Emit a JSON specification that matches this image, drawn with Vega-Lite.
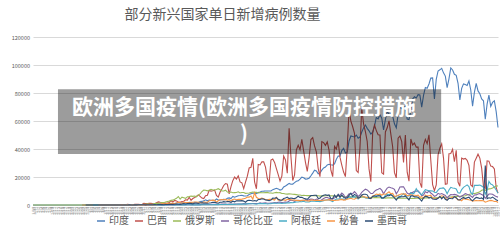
{
"$schema":"https://vega.github.io/schema/vega-lite/v6.json",
"width":465,"height":168,
"autosize":{"type":"none"},
"padding":{"left":33,"top":37,"right":2,"bottom":39},
"background":"white",
"config":{"view":{"stroke":null},"font":"Noto Sans CJK SC"},
"title":{"text":"部分新兴国家单日新增病例数量","fontSize":14,"fontWeight":"normal","color":"#595959","dx":-43,"offset":13,"font":"Noto Sans CJK SC"},
"resolve":{"scale":{"x":"independent","y":"independent"},"axis":{"x":"independent","y":"independent"}},
"datasets":{
"names":[{"k":"a","n":"印度"},{"k":"b","n":"巴西"},{"k":"c","n":"俄罗斯"},{"k":"e","n":"哥伦比亚"},{"k":"f","n":"阿根廷"},{"k":"g","n":"秘鲁"},{"k":"h","n":"墨西哥"}],
"cases":[
{"d":"2020-01-30","a":1,"c":0},{"d":"2020-01-31","a":0,"c":2},
{"d":"2020-02-01","a":0,"c":0},{"d":"2020-02-02","a":1,"c":0},{"d":"2020-02-03","a":1,"c":0},{"d":"2020-02-04","a":0,"c":0},{"d":"2020-02-05","a":0,"c":0},{"d":"2020-02-06","a":0,"c":0},{"d":"2020-02-07","a":0,"c":0},{"d":"2020-02-08","a":0,"c":0},{"d":"2020-02-09","a":0,"c":0},{"d":"2020-02-10","a":0,"c":0},{"d":"2020-02-11","a":0,"c":0},{"d":"2020-02-12","a":0,"c":0},{"d":"2020-02-13","a":0,"c":0},{"d":"2020-02-14","a":0,"c":0},{"d":"2020-02-15","a":0,"c":0},{"d":"2020-02-16","a":0,"c":0},{"d":"2020-02-17","a":0,"c":0},{"d":"2020-02-18","a":0,"c":0},{"d":"2020-02-19","a":0,"c":0},{"d":"2020-02-20","a":0,"c":0},{"d":"2020-02-21","a":0,"c":0},{"d":"2020-02-22","a":0,"c":0},{"d":"2020-02-23","a":0,"c":0},{"d":"2020-02-24","a":0,"c":0},{"d":"2020-02-25","a":0,"c":0},
{"d":"2020-02-26","a":0,"b":1,"c":0},{"d":"2020-02-27","a":0,"b":0,"c":0},{"d":"2020-02-28","a":0,"b":0,"c":0,"h":1},{"d":"2020-02-29","a":0,"b":0,"c":0,"h":3},
{"d":"2020-03-01","a":0,"b":1,"c":0,"h":1},{"d":"2020-03-02","a":2,"b":0,"c":1,"h":0},{"d":"2020-03-03","a":1,"b":0,"c":0,"f":1,"h":0},{"d":"2020-03-04","a":22,"b":2,"c":0,"f":0,"h":0},{"d":"2020-03-05","a":2,"b":4,"c":1,"f":1,"h":0},
{"d":"2020-03-06","a":1,"b":5,"c":0,"e":1,"f":6,"g":1,"h":1},{"d":"2020-03-07","a":3,"b":6,"c":0,"e":0,"f":4,"g":5,"h":2},{"d":"2020-03-08","a":5,"b":6,"c":3,"e":0,"f":0,"g":1,"h":0},{"d":"2020-03-09","a":4,"b":0,"c":0,"e":0,"f":5,"g":2,"h":0},{"d":"2020-03-10","a":13,"b":6,"c":3,"e":2,"f":0,"g":2,"h":0},
{"d":"2020-03-11","a":6,"b":18,"c":8,"e":6,"f":2,"g":6,"h":4},{"d":"2020-03-12","a":11,"b":25,"c":6,"e":0,"f":12,"g":5,"h":4},{"d":"2020-03-13","a":9,"b":21,"c":17,"e":7,"f":3,"g":16,"h":4},{"d":"2020-03-14","a":20,"b":23,"c":14,"e":8,"f":11,"g":16,"h":15},{"d":"2020-03-15","a":11,"b":79,"c":4,"e":21,"f":11,"g":33,"h":15},
{"d":"2020-03-16","a":6,"b":34,"c":30,"e":11,"f":9,"g":15,"h":29},{"d":"2020-03-17","a":23,"b":57,"c":21,"e":30,"f":9,"g":31,"h":11},{"d":"2020-03-18","a":14,"b":137,"c":33,"e":27,"f":14,"g":11,"h":25},{"d":"2020-03-19","a":38,"b":193,"c":52,"e":9,"f":19,"g":89,"h":46},{"d":"2020-03-20","a":50,"b":283,"c":54,"e":26,"f":31,"g":40,"h":45},
{"d":"2020-03-21","a":86,"b":224,"c":53,"e":41,"f":30,"g":29,"h":39},{"d":"2020-03-22","a":66,"b":418,"c":61,"e":35,"f":67,"g":55,"h":48},{"d":"2020-03-23","a":103,"b":345,"c":71,"e":75,"f":36,"g":32,"h":65},{"d":"2020-03-24","a":37,"b":310,"c":57,"e":72,"f":35,"g":21,"h":38},{"d":"2020-03-25","a":121,"b":232,"c":163,"e":92,"f":86,"g":64,"h":38},
{"d":"2020-03-26","a":70,"b":482,"c":182,"e":21,"f":115,"g":100,"h":70},{"d":"2020-03-27","a":160,"b":502,"c":196,"e":121,"f":87,"g":100,"h":109},{"d":"2020-03-28","a":100,"b":487,"c":228,"e":48,"f":101,"g":55,"h":132},{"d":"2020-03-29","a":82,"b":352,"c":270,"e":94,"f":75,"g":181,"h":131},{"d":"2020-03-30","a":220,"b":323,"c":302,"e":96,"f":79,"g":92,"h":145},{"d":"2020-03-31","a":303,"b":1138,"c":501,"e":104,"f":146,"g":115,"h":156},
{"d":"2020-04-01","a":601,"b":1119,"c":440,"e":96,"f":132,"g":258,"h":116},{"d":"2020-04-02","a":545,"b":1074,"c":771,"e":100,"f":167,"g":100,"h":178},{"d":"2020-04-03","a":478,"b":1146,"c":601,"e":141,"f":98,"g":265,"h":163},{"d":"2020-04-04","a":578,"b":1222,"c":582,"e":65,"f":116,"g":189,"h":206},{"d":"2020-04-05","a":689,"b":852,"c":658,"e":82,"f":89,"g":106,"h":178},
{"d":"2020-04-06","a":490,"b":926,"c":954,"e":142,"f":131,"g":156,"h":253},{"d":"2020-04-07","a":573,"b":1661,"c":1154,"e":199,"f":78,"g":171,"h":203},{"d":"2020-04-08","a":565,"b":2210,"c":1175,"e":188,"f":105,"g":331,"h":296},{"d":"2020-04-09","a":813,"b":1930,"c":1459,"e":202,"f":120,"g":575,"h":302},{"d":"2020-04-10","a":871,"b":1781,"c":1786,"e":95,"f":85,"g":1000,"h":297},
{"d":"2020-04-11","a":854,"b":1089,"c":1667,"e":84,"f":52,"g":890,"h":203},{"d":"2020-04-12","a":758,"b":1442,"c":2186,"e":72,"f":94,"g":686,"h":329},{"d":"2020-04-13","a":1243,"b":1261,"c":2558,"e":77,"f":92,"g":1200,"h":304},{"d":"2020-04-14","a":1031,"b":1832,"c":2774,"e":172,"f":142,"g":1060,"h":421},{"d":"2020-04-15","a":886,"b":3058,"c":3388,"e":71,"f":125,"g":1250,"h":429},
{"d":"2020-04-16","a":1061,"b":2105,"c":3448,"e":134,"f":117,"g":1190,"h":448},{"d":"2020-04-17","a":922,"b":3257,"c":4070,"e":99,"f":100,"g":1100,"h":493},{"d":"2020-04-18","a":1371,"b":2917,"c":4785,"e":227,"f":79,"g":1450,"h":629},{"d":"2020-04-19","a":1580,"b":2055,"c":6060,"e":137,"f":122,"g":1800,"h":578},{"d":"2020-04-20","a":1239,"b":1927,"c":4268,"e":126,"f":73,"g":1900,"h":478},
{"d":"2020-04-21","a":1537,"b":2498,"c":5642,"e":142,"f":79,"g":1000,"h":764},{"d":"2020-04-22","a":1292,"b":2678,"c":5236,"e":252,"f":96,"g":2100,"h":1089},{"d":"2020-04-23","a":1667,"b":3735,"c":4774,"e":264,"f":89,"g":1750,"h":745},{"d":"2020-04-24","a":1408,"b":3503,"c":5849,"e":240,"f":127,"g":1770,"h":1043},{"d":"2020-04-25","a":1835,"b":5514,"c":5966,"e":271,"f":164,"g":1800,"h":1239},
{"d":"2020-04-26","a":1607,"b":3379,"c":6361,"e":269,"f":72,"g":1900,"h":1144},{"d":"2020-04-27","a":1568,"b":4613,"c":6198,"e":167,"f":87,"g":2000,"h":801},{"d":"2020-04-28","a":1902,"b":5385,"c":6411,"e":220,"f":77,"g":2100,"h":1223},{"d":"2020-04-29","a":1705,"b":6276,"c":5841,"e":196,"f":109,"g":2100,"h":1214},{"d":"2020-04-30","a":1801,"b":7218,"c":7099,"e":253,"f":111,"g":2000,"h":1100},
{"d":"2020-05-01","a":2396,"b":6209,"c":7933,"e":270,"f":101,"g":2000,"h":1425},{"d":"2020-05-02","a":2564,"b":4970,"c":9623,"e":312,"f":128,"g":1500,"h":1515},{"d":"2020-05-03","a":2952,"b":4588,"c":10633,"e":348,"f":207,"g":2300,"h":1349},{"d":"2020-05-04","a":3656,"b":6633,"c":10581,"e":367,"f":180,"g":2000,"h":1434},{"d":"2020-05-05","a":2971,"b":6935,"c":10102,"e":490,"f":208,"g":1900,"h":1305},
{"d":"2020-05-06","a":3602,"b":10503,"c":10559,"e":406,"f":160,"g":3000,"h":1442},{"d":"2020-05-07","a":3344,"b":9888,"c":11231,"e":509,"f":173,"g":3200,"h":1609},{"d":"2020-05-08","a":3339,"b":10222,"c":10699,"e":498,"f":143,"g":3500,"h":1906},{"d":"2020-05-09","a":3175,"b":10611,"c":10817,"e":583,"f":243,"g":3300,"h":1992},{"d":"2020-05-10","a":4311,"b":6760,"c":11012,"e":595,"f":259,"g":2000,"h":1562},
{"d":"2020-05-11","a":3592,"b":5632,"c":11656,"e":576,"f":253,"g":3000,"h":1305},{"d":"2020-05-12","a":3562,"b":9258,"c":10899,"e":519,"f":310,"g":3700,"h":1997},{"d":"2020-05-13","a":3726,"b":11385,"c":10028,"e":632,"f":315,"g":3900,"h":1998},{"d":"2020-05-14","a":3991,"b":13944,"c":9974,"e":622,"f":316,"g":3800,"h":2409},{"d":"2020-05-15","a":3808,"b":15305,"c":10598,"e":590,"f":422,"g":4000,"h":2112},
{"d":"2020-05-16","a":4794,"b":14919,"c":9200,"e":458,"f":344,"g":3400,"h":2437},{"d":"2020-05-17","a":5049,"b":7938,"c":8926,"e":669,"f":323,"g":3800,"h":2414},{"d":"2020-05-18","a":4628,"b":13140,"c":9263,"e":651,"f":462,"g":3000,"h":1937},{"d":"2020-05-19","a":6147,"b":17408,"c":8764,"e":547,"f":560,"g":3900,"h":2713},{"d":"2020-05-20","a":5553,"b":19951,"c":8849,"e":716,"f":443,"g":4300,"h":2248},
{"d":"2020-05-21","a":6088,"b":18508,"c":8894,"e":688,"f":507,"g":3800,"h":2973},{"d":"2020-05-22","a":6654,"b":20803,"c":9434,"e":690,"f":610,"g":4000,"h":2961},{"d":"2020-05-23","a":6767,"b":16508,"c":8599,"e":746,"f":662,"g":4000,"h":2960},{"d":"2020-05-24","a":6977,"b":15813,"c":8946,"e":680,"f":593,"g":4200,"h":3128},{"d":"2020-05-25","a":6535,"b":11687,"c":8915,"e":1026,"f":591,"g":4500,"h":2764},
{"d":"2020-05-26","a":6387,"b":16324,"c":8338,"e":799,"f":621,"g":4800,"h":1994},{"d":"2020-05-27","a":6566,"b":20599,"c":8371,"e":860,"f":800,"g":5700,"h":3151},{"d":"2020-05-28","a":7466,"b":26417,"c":8572,"e":967,"f":1000,"g":5600,"h":3377},{"d":"2020-05-29","a":7964,"b":26928,"c":8952,"e":894,"f":852,"g":6400,"h":3227},{"d":"2020-05-30","a":8380,"b":33274,"c":9268,"e":1094,"f":914,"g":4100,"h":2885},{"d":"2020-05-31","a":8392,"b":16409,"c":9035,"e":1022,"f":703,"g":8800,"h":3152},
{"d":"2020-06-01","a":8171,"b":11598,"c":9035,"e":1037,"f":595,"g":5500,"h":2771},{"d":"2020-06-02","a":8909,"b":28936,"c":8536,"e":1087,"f":983,"g":4600,"h":3891},{"d":"2020-06-03","a":9304,"b":28633,"c":8831,"e":1515,"f":949,"g":4500,"h":3912},{"d":"2020-06-04","a":9851,"b":30925,"c":8726,"e":1264,"f":1020,"g":5000,"h":4442},{"d":"2020-06-05","a":9887,"b":30830,"c":8705,"e":1424,"f":949,"g":4500,"h":4346},
{"d":"2020-06-06","a":9971,"b":27075,"c":8855,"e":1526,"f":1054,"g":4000,"h":3593},{"d":"2020-06-07","a":9983,"b":18912,"c":8984,"e":1212,"f":758,"g":3500,"h":3484},{"d":"2020-06-08","a":9987,"b":15654,"c":8595,"e":1215,"f":898,"g":4000,"h":3025},{"d":"2020-06-09","a":9985,"b":32091,"c":8595,"e":1474,"f":978,"g":4000,"h":3484},{"d":"2020-06-10","a":10956,"b":32913,"c":8404,"e":1380,"f":1227,"g":4000,"h":4883},
{"d":"2020-06-11","a":11458,"b":30412,"c":8779,"e":1741,"f":1375,"g":3500,"h":4790},{"d":"2020-06-12","a":11929,"b":25982,"c":8987,"e":1558,"f":1233,"g":5500,"h":5222},{"d":"2020-06-13","a":11502,"b":21704,"c":8706,"e":1923,"f":1250,"g":3500,"h":4147},{"d":"2020-06-14","a":10667,"b":17110,"c":8835,"e":2069,"f":1312,"g":3500,"h":3494},{"d":"2020-06-15","a":10974,"b":20647,"c":8246,"e":1834,"f":1109,"g":3500,"h":3427},
{"d":"2020-06-16","a":12881,"b":34918,"c":8248,"e":1929,"f":1265,"g":3800,"h":4599},{"d":"2020-06-17","a":13586,"b":32188,"c":7843,"e":2067,"f":1289,"g":3300,"h":4930},{"d":"2020-06-18","a":14516,"b":22765,"c":7790,"e":2012,"f":1493,"g":4000,"h":5662},{"d":"2020-06-19","a":15413,"b":54771,"c":7972,"e":2844,"f":1536,"g":4200,"h":4577},{"d":"2020-06-20","a":14821,"b":34666,"c":7889,"e":3486,"f":1667,"g":3800,"h":5030},
{"d":"2020-06-21","a":14933,"b":17459,"c":7728,"e":3171,"f":1581,"g":3600,"h":4717},{"d":"2020-06-22","a":15968,"b":21432,"c":7600,"e":2630,"f":1894,"g":3500,"h":4577},{"d":"2020-06-23","a":16922,"b":39436,"c":7425,"e":3214,"f":2121,"g":3300,"h":5194},{"d":"2020-06-24","a":17296,"b":42725,"c":7176,"e":3439,"f":2135,"g":3100,"h":6288},{"d":"2020-06-25","a":18552,"b":39483,"c":7113,"e":3171,"f":2509,"g":3100,"h":5437},
{"d":"2020-06-26","a":19906,"b":46860,"c":6800,"e":3243,"f":2283,"g":3300,"h":5492},{"d":"2020-06-27","a":19459,"b":38693,"c":6852,"e":2860,"f":2614,"g":3500,"h":4800},{"d":"2020-06-28","a":18522,"b":30476,"c":6791,"e":3843,"f":2189,"g":3000,"h":4410},{"d":"2020-06-29","a":18653,"b":24052,"c":6719,"e":3140,"f":2104,"g":3000,"h":4050},{"d":"2020-06-30","a":19148,"b":33846,"c":6693,"e":3963,"f":2259,"g":2800,"h":5432},
{"d":"2020-07-01","a":20903,"b":46712,"c":6556,"e":4163,"f":2652,"g":3500,"h":6741},{"d":"2020-07-02","a":22771,"b":48105,"c":6760,"e":4103,"f":2765,"g":3500,"h":6740},{"d":"2020-07-03","a":24850,"b":42223,"c":6632,"e":3495,"f":2686,"g":3200,"h":6995},{"d":"2020-07-04","a":24248,"b":37923,"c":6736,"e":4213,"f":2604,"g":3300,"h":6914},{"d":"2020-07-05","a":22252,"b":26051,"c":6611,"e":3574,"f":2456,"g":3400,"h":4683},
{"d":"2020-07-06","a":22752,"b":20229,"c":6368,"e":2841,"f":2411,"g":3200,"h":4902},{"d":"2020-07-07","a":24879,"b":45305,"c":6562,"e":3758,"f":2632,"g":3000,"h":6258},{"d":"2020-07-08","a":26506,"b":44571,"c":6509,"e":4691,"f":3124,"g":3500,"h":6995},{"d":"2020-07-09","a":27114,"b":42619,"c":6635,"e":5335,"f":3620,"g":3400,"h":7280},{"d":"2020-07-10","a":28637,"b":45048,"c":6636,"e":5335,"f":3637,"g":3600,"h":6891},
{"d":"2020-07-11","a":29108,"b":39023,"c":6611,"e":4783,"f":3528,"g":3800,"h":7221},{"d":"2020-07-12","a":28701,"b":24831,"c":6615,"e":4231,"f":3100,"g":3500,"h":4482},{"d":"2020-07-13","a":28498,"b":20286,"c":6537,"e":4163,"f":2466,"g":3300,"h":4685},{"d":"2020-07-14","a":29429,"b":41857,"c":6248,"e":5093,"f":3449,"g":3200,"h":7051},{"d":"2020-07-15","a":32695,"b":39924,"c":6422,"e":6071,"f":4229,"g":3400,"h":5311},
{"d":"2020-07-16","a":34956,"b":45403,"c":6428,"e":7057,"f":4250,"g":3500,"h":7615},{"d":"2020-07-17","a":34884,"b":34177,"c":6406,"e":6907,"f":4442,"g":3800,"h":5445},{"d":"2020-07-18","a":38902,"b":28532,"c":6234,"e":8560,"f":4223,"g":4000,"h":7257},{"d":"2020-07-19","a":40425,"b":23529,"c":6109,"e":7494,"f":4232,"g":3500,"h":5430},{"d":"2020-07-20","a":37148,"b":20257,"c":5940,"e":4701,"f":3809,"g":3600,"h":4973},
{"d":"2020-07-21","a":37724,"b":41008,"c":5842,"e":6309,"f":4767,"g":4200,"h":5172},{"d":"2020-07-22","a":45720,"b":67860,"c":5862,"e":7934,"f":5782,"g":4500,"h":6859},{"d":"2020-07-23","a":49310,"b":59961,"c":5848,"e":8003,"f":5493,"g":4800,"h":8438},{"d":"2020-07-24","a":48916,"b":55891,"c":5811,"e":8049,"f":5828,"g":4300,"h":6194},{"d":"2020-07-25","a":48661,"b":51147,"c":5871,"e":9560,"f":5946,"g":4100,"h":7530},
{"d":"2020-07-26","a":49931,"b":24578,"c":5765,"e":8166,"f":5125,"g":5000,"h":6751},{"d":"2020-07-27","a":47703,"b":23284,"c":5635,"e":6094,"f":4306,"g":5100,"h":4973},{"d":"2020-07-28","a":48513,"b":40816,"c":5475,"e":7129,"f":5939,"g":5400,"h":5352},{"d":"2020-07-29","a":52123,"b":69074,"c":5509,"e":9071,"f":6377,"g":6800,"h":7208},{"d":"2020-07-30","a":55078,"b":57837,"c":5482,"e":10284,"f":5958,"g":6000,"h":7730},{"d":"2020-07-31","a":57118,"b":52383,"c":5462,"e":11286,"f":4959,"g":5600,"h":7730},
{"d":"2020-08-01","a":54735,"b":45392,"c":5427,"e":10791,"f":4780,"g":5000,"h":7245},{"d":"2020-08-02","a":52972,"b":25800,"c":5394,"e":9484,"f":4714,"g":5600,"h":4853},{"d":"2020-08-03","a":50629,"b":16641,"c":5159,"e":8165,"f":4939,"g":4500,"h":4767},{"d":"2020-08-04","a":52050,"b":51603,"c":5204,"e":8183,"f":6134,"g":6500,"h":6148},{"d":"2020-08-05","a":56282,"b":57152,"c":5267,"e":9692,"f":6264,"g":6900,"h":6590},
{"d":"2020-08-06","a":62538,"b":53139,"c":5241,"e":10712,"f":6519,"g":7800,"h":6139},{"d":"2020-08-07","a":61537,"b":50230,"c":5212,"e":11286,"f":6792,"g":7400,"h":6590},{"d":"2020-08-08","a":64399,"b":49970,"c":5189,"e":11902,"f":7369,"g":8000,"h":6495},{"d":"2020-08-09","a":62064,"b":23010,"c":5118,"e":10588,"f":4688,"g":7000,"h":5045},{"d":"2020-08-10","a":53601,"b":22048,"c":5102,"e":8006,"f":4921,"g":8000,"h":5058},
{"d":"2020-08-11","a":60963,"b":52160,"c":4945,"e":10142,"f":7043,"g":7500,"h":5858},{"d":"2020-08-12","a":66999,"b":55155,"c":5102,"e":12066,"f":7663,"g":8500,"h":6686},{"d":"2020-08-13","a":64553,"b":60091,"c":5057,"e":12830,"f":7498,"g":9400,"h":6590},{"d":"2020-08-14","a":65002,"b":50644,"c":5061,"e":12298,"f":7482,"g":8000,"h":7371},{"d":"2020-08-15","a":63490,"b":41576,"c":5065,"e":11996,"f":6840,"g":8300,"h":6345},
{"d":"2020-08-16","a":57981,"b":23101,"c":4969,"e":11131,"f":5800,"g":6000,"h":5094},{"d":"2020-08-17","a":55079,"b":19373,"c":4839,"e":7981,"f":6260,"g":6500,"h":3571},{"d":"2020-08-18","a":64531,"b":47784,"c":4718,"e":9997,"f":6800,"g":7000,"h":5448},{"d":"2020-08-19","a":69652,"b":49298,"c":4828,"e":12830,"f":5700,"g":7500,"h":5792},{"d":"2020-08-20","a":68898,"b":45323,"c":4790,"e":12958,"f":6840,"g":8000,"h":5852},
{"d":"2020-08-21","a":69878,"b":30355,"c":4870,"e":13056,"f":8225,"g":7800,"h":5942},{"d":"2020-08-22","a":70488,"b":50032,"c":4921,"e":10651,"f":6693,"g":7900,"h":6482},{"d":"2020-08-23","a":61408,"b":23421,"c":4852,"e":8569,"f":6400,"g":6700,"h":5101},{"d":"2020-08-24","a":60975,"b":17046,"c":4676,"e":7760,"f":6410,"g":6800,"h":3541},{"d":"2020-08-25","a":67151,"b":47134,"c":4696,"e":8682,"f":8771,"g":7500,"h":6494},
{"d":"2020-08-26","a":75760,"b":42889,"c":4711,"e":9015,"f":7867,"g":7000,"h":6539},{"d":"2020-08-27","a":77266,"b":44235,"c":4676,"e":9789,"f":8713,"g":7000,"h":5824},{"d":"2020-08-28","a":76472,"b":41350,"c":4829,"e":9900,"f":11717,"g":6800,"h":5927},{"d":"2020-08-29","a":78761,"b":41350,"c":4941,"e":10178,"f":9590,"g":7000,"h":5480},{"d":"2020-08-30","a":78512,"b":16158,"c":4980,"e":8686,"f":8453,"g":5500,"h":4265},{"d":"2020-08-31","a":69921,"b":12386,"c":4729,"e":6730,"f":7184,"g":6000,"h":2858},
{"d":"2020-09-01","a":78357,"b":42659,"c":4729,"e":7129,"f":9230,"g":4800,"h":5158},{"d":"2020-09-02","a":83883,"b":46934,"c":4952,"e":9539,"f":10933,"g":7000,"h":6157},{"d":"2020-09-03","a":83341,"b":43773,"c":5110,"e":8755,"f":10504,"g":6500,"h":5976},{"d":"2020-09-04","a":86432,"b":50163,"c":5185,"e":9905,"f":10104,"g":6600,"h":4996},{"d":"2020-09-05","a":90632,"b":31911,"c":5205,"e":8577,"f":10104,"g":7000,"h":5659},
{"d":"2020-09-06","a":90802,"b":14521,"c":5195,"e":7592,"f":9956,"g":5000,"h":4269},{"d":"2020-09-07","a":75809,"b":10273,"c":5185,"e":6134,"f":9170,"g":4500,"h":4073},{"d":"2020-09-08","a":89706,"b":14279,"c":5099,"e":6743,"f":8841,"g":4700,"h":4045},{"d":"2020-09-09","a":95735,"b":35816,"c":5218,"e":8325,"f":10550,"g":5000,"h":4801},{"d":"2020-09-10","a":96551,"b":40557,"c":5363,"e":7695,"f":11905,"g":6000,"h":6240},
{"d":"2020-09-11","a":97570,"b":43718,"c":5406,"e":8141,"f":12026,"g":6600,"h":4408},{"d":"2020-09-12","a":94372,"b":33523,"c":5449,"e":7493,"f":12259,"g":6200,"h":5888},{"d":"2020-09-13","a":92071,"b":14768,"c":5504,"e":6819,"f":10776,"g":4800,"h":4071},{"d":"2020-09-14","a":83809,"b":15155,"c":5509,"e":4983,"f":8000,"g":3700,"h":3335},{"d":"2020-09-15","a":90123,"b":36653,"c":5670,"e":6439,"f":10776,"g":4700,"h":4771},
{"d":"2020-09-16","a":97894,"b":36820,"c":5762,"e":7449,"f":12625,"g":5000,"h":4617},{"d":"2020-09-17","a":96424,"b":39797,"c":5905,"e":7336,"f":12200,"g":5500,"h":4507},{"d":"2020-09-18","a":93337,"b":30913,"c":6065,"e":7568,"f":11945,"g":5900,"h":5937},{"d":"2020-09-19","a":92605,"b":39126,"c":6148,"e":7258,"f":11495,"g":4900,"h":5174},{"d":"2020-09-20","a":86961,"b":16389,"c":6196,"e":6578,"f":8782,"g":3700,"h":3717},
{"d":"2020-09-21","a":75083,"b":13439,"c":6234,"e":5616,"f":8431,"g":3800,"h":3542},{"d":"2020-09-22","a":83347,"b":33536,"c":6215,"e":6404,"f":10977,"g":3000,"h":4683},{"d":"2020-09-23","a":86508,"b":32817,"c":6431,"e":7173,"f":12625,"g":4500,"h":5408},{"d":"2020-09-24","a":86052,"b":33281,"c":6595,"e":8094,"f":13467,"g":4300,"h":4580},{"d":"2020-09-25","a":85362,"b":31911,"c":7212,"e":7624,"f":14392,"g":4000,"h":5225},
{"d":"2020-09-26","a":88600,"b":28378,"c":7523,"e":7212,"f":13200,"g":3700,"h":5573},{"d":"2020-09-27","a":82170,"b":14318,"c":7867,"e":6418,"f":9000,"g":3500,"h":3963},{"d":"2020-09-28","a":70589,"b":13155,"c":8135,"e":5437,"f":7600,"g":2800,"h":2957},{"d":"2020-09-29","a":80472,"b":30652,"c":8232,"e":7179,"f":14000,"g":3000,"h":4303},{"d":"2020-09-30","a":86821,"b":33413,"c":8481,"e":7217,"f":14000,"g":3200,"h":5408},
{"d":"2020-10-01","a":81484,"b":36303,"c":8945,"e":7840,"f":14000,"g":3000,"h":5098},{"d":"2020-10-02","a":79476,"b":33523,"c":9412,"e":8164,"f":14300,"g":3200,"h":4694},{"d":"2020-10-03","a":75829,"b":26310,"c":10499,"e":7508,"f":13600,"g":3100,"h":5068},{"d":"2020-10-04","a":74442,"b":13439,"c":10888,"e":6864,"f":12600,"g":3000,"h":4010},{"d":"2020-10-05","a":61267,"b":11946,"c":10499,"e":4786,"f":7700,"g":2000,"h":28115},
{"d":"2020-10-06","a":72049,"b":31553,"c":11115,"e":6402,"f":10600,"g":2500,"h":4507},{"d":"2020-10-07","a":78524,"b":31338,"c":11493,"e":7837,"f":16900,"g":3100,"h":5124},{"d":"2020-10-08","a":70496,"b":27750,"c":11615,"e":7820,"f":15000,"g":3300,"h":4828},{"d":"2020-10-09","a":73272,"b":27444,"c":12126,"e":7682,"f":14400,"g":3000,"h":5652},{"d":"2020-10-10","a":74383,"b":25733,"c":12846,"e":6789,"f":12700,"g":2500,"h":4733},
{"d":"2020-10-11","a":66732,"b":12342,"c":13634,"e":5990,"f":10700,"g":2700,"h":3715},{"d":"2020-10-12","a":55342,"b":8429,"c":13592,"e":5624,"f":8400,"g":1800,"h":3046}
]},
"layer":[
{"data":{"name":"cases"},
"transform":[{"fold":["a","b","c","e","f","g","h"],"as":["k","v"]},{"lookup":"k","from":{"data":{"name":"names"},"key":"k","fields":["n"]}}],
"mark":{"type":"line","strokeWidth":1.1},
"encoding":{
"x":{"field":"d","type":"temporal","title":null,"axis":{"format":"%-m/%-d","labelAngle":-90,"labelFontSize":3.8,"labelColor":"#8c8c8c","tickCount":{"interval":"day","step":1},"labelOverlap":false,"labelFlush":false,"labelBound":false,"ticks":false,"grid":false,"domainColor":"#D9D9D9","labelPadding":1.5}},
"y":{"field":"v","type":"quantitative","title":null,"scale":{"domain":[0,120000]},"axis":{"values":[0,20000,40000,60000,80000,100000,120000],"format":"d","labelFontSize":5.5,"labelColor":"#595959","labelOverlap":false,"ticks":false,"domain":false,"gridColor":"#D9D9D9","gridWidth":1,"labelPadding":3.5}},
"color":{"field":"n","type":"nominal","scale":{"domain":["印度","巴西","俄罗斯","哥伦比亚","阿根廷","秘鲁","墨西哥"],"range":["#4F81BD","#C0504D","#9BBB59","#8064A2","#4BACC6","#F79646","#2C4D75"]},
"legend":{"orient":"none","legendX":63,"legendY":179,"direction":"horizontal","title":null,"symbolType":"stroke","symbolSize":64,"symbolStrokeWidth":1.5,"labelFontSize":10,"labelColor":"#595959","columnPadding":3,"labelOffset":3,"labelFont":"Noto Sans CJK SC"}}
}},
{"data":{"values":[{}]},
"mark":{"type":"rect","fill":"black","opacity":0.39},
"encoding":{"x":{"datum":{"year":2020,"month":2,"date":12,"hours":18},"type":"temporal","axis":null,"scale":{"domain":[{"year":2020,"month":1,"date":30},{"year":2020,"month":10,"date":12}]}},"x2":{"datum":{"year":2020,"month":9,"date":10,"hours":17}},"y":{"datum":36400,"type":"quantitative","axis":null,"scale":{"domain":[0,120000]}},"y2":{"datum":82600}}},
{"data":{"values":[{}]},
"mark":{"type":"text","text":["欧洲多国疫情(欧洲多国疫情防控措施",")"],"color":"white","fontSize":21,"fontWeight":"bold","lineHeight":27,"align":"center","baseline":"middle","font":"Noto Sans CJK SC"},
"encoding":{"x":{"datum":{"year":2020,"month":5,"date":25,"hours":5},"type":"temporal","axis":null,"scale":{"domain":[{"year":2020,"month":1,"date":30},{"year":2020,"month":10,"date":12}]}},"y":{"datum":69300,"type":"quantitative","axis":null,"scale":{"domain":[0,120000]}}}}
]
}
